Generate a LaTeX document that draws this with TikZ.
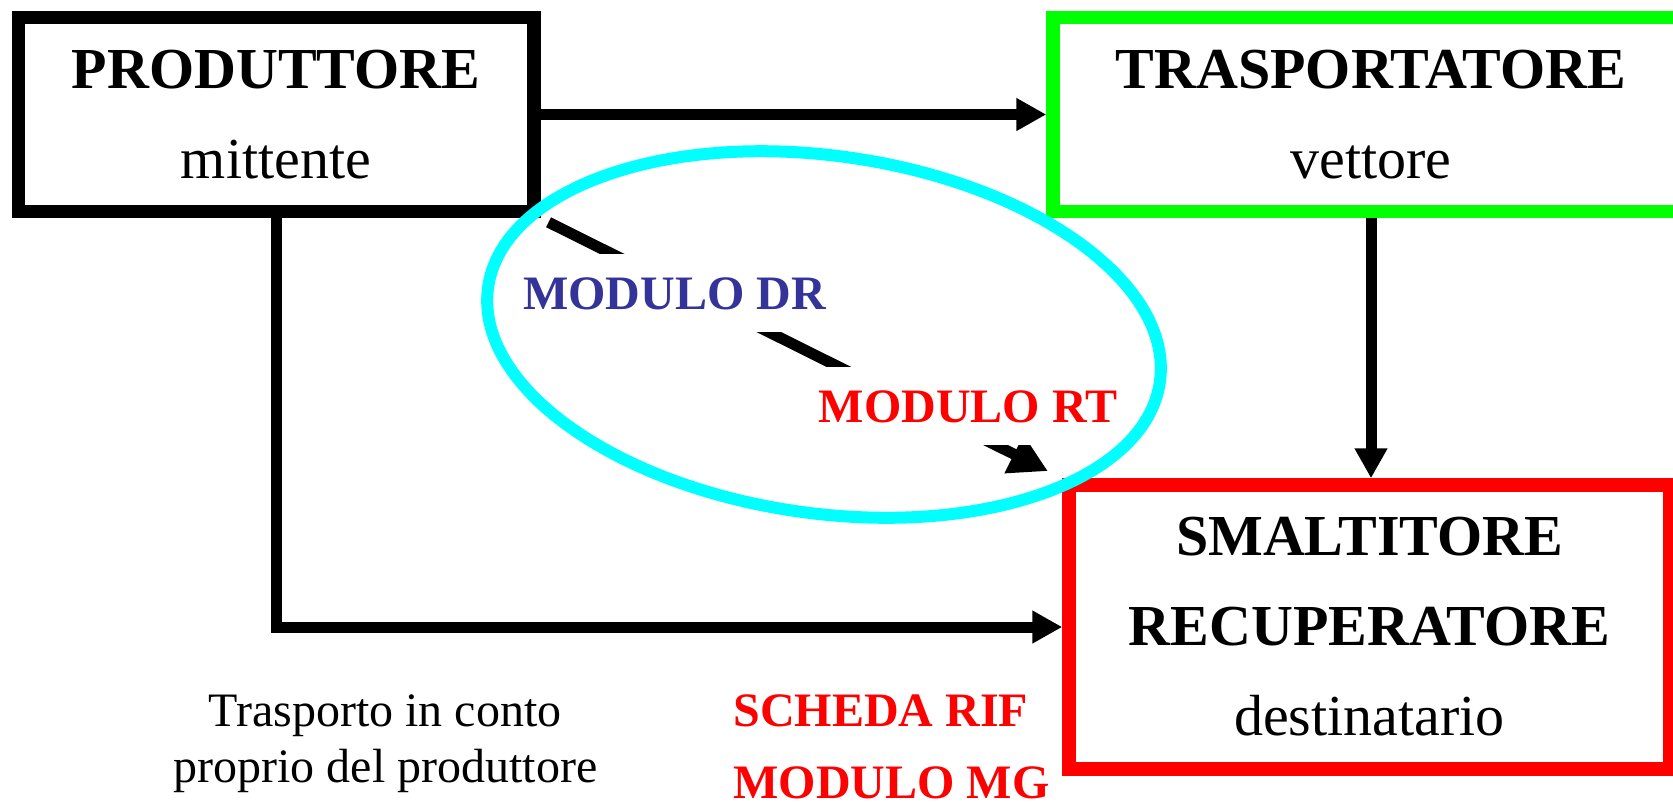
\documentclass[tikz,border=0pt]{standalone}
\usepackage{fontspec}
\setmainfont{Liberation Serif}
\usetikzlibrary{arrows.meta}
\definecolor{verde}{RGB}{0,255,0}
\definecolor{rosso}{RGB}{255,0,0}
\definecolor{ciano}{RGB}{0,255,255}
\definecolor{blumod}{RGB}{51,51,153}

\begin{document}
\begin{tikzpicture}[x=0.5pt, y=-0.5pt,
    soggetto/.style={draw, line width=6.75pt, align=center, inner sep=0pt,
      font=\fontsize{29}{45}\selectfont},
    freccia/.style={line width=5.5pt, -{Triangle[length=15pt,width=15.5pt]}},
    modulo/.style={fill=white, anchor=base, inner xsep=12pt, inner ysep=11.5pt,
      font=\fontsize{24}{28}\selectfont\bfseries},
    nota/.style={anchor=base, inner sep=0pt, font=\fontsize{24}{28}\selectfont}]
    \useasboundingbox (0,0) rectangle (1673,804);
    \clip (0,0) rectangle (1673,804);

    \node (P) [soggetto, minimum width=257.75pt, minimum height=97pt] at (276,114.5)
      {\textbf{PRODUTTORE}\\ mittente};
    \node (T) [soggetto, draw=verde, minimum width=318pt, minimum height=97pt] at (1371,114.5)
      {\textbf{TRASPORTATORE}\\ vettore};
    \node (S) [soggetto, draw=rosso, minimum width=300.5pt, minimum height=142pt] at (1369.5,627)
      {\textbf{SMALTITORE}\\ \textbf{RECUPERATORE}\\ destinatario};

    \begin{scope}[freccia]
      \draw (P.east) -- (T.west) ;
      \draw (T.south) -- (T.south |- S.north) ;
      \draw (P.south) |- (S.west) ;
    \end{scope}
    \draw[line width=5.5pt, -{Triangle[length=19pt,width=20pt]},
      shorten <=4.5pt, shorten >=8pt] (P.south east) -- (S.north west) ;

    \node (DR) [modulo, text=blumod] at (674.5,309) {MODULO DR};
    \node (RT) [modulo, text=rosso] at (968,422) {MODULO RT};

    \node (conto1) [nota] at (385,726) {Trasporto in conto};
    \node (conto2) [nota] at (385.5,782) {proprio del produttore};
    \node (RIF) [nota, anchor=base west, text=rosso, font=\fontsize{24}{28}\selectfont\bfseries]
      at (733,726) {SCHEDA RIF};
    \node (MG) [nota, anchor=base west, text=rosso, font=\fontsize{24}{28}\selectfont\bfseries]
      at (733,798) {MODULO MG};

    \draw[ciano, line width=6pt, rotate around={-8:(824,334.5)}]
      (824,334.5) ellipse [x radius=169.6pt, y radius=89.4pt] ;
  \end{tikzpicture}
\end{document}
